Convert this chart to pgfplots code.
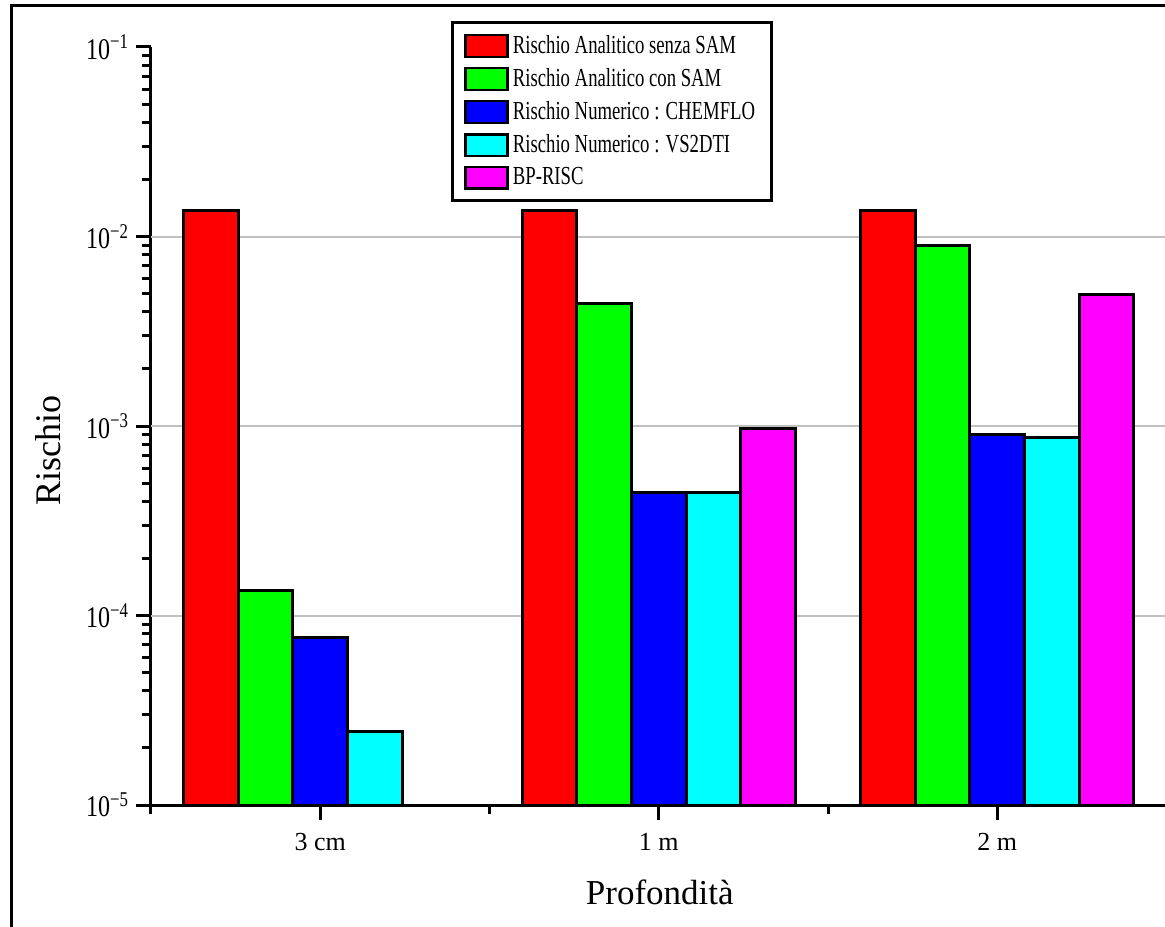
\documentclass[border=0pt]{standalone}
\usepackage{fontspec}
\setmainfont{Liberation Serif}
\newfontfamily\legfont[FakeStretch=0.72]{Liberation Serif}
\newfontfamily\tickfont[FakeStretch=0.8]{Liberation Serif}
\usepackage{pgfplots}
\pgfplotsset{compat=1.18}
\definecolor{gridgray}{RGB}{192,192,192}
\definecolor{bred}{RGB}{255,0,0}
\definecolor{bgreen}{RGB}{0,255,0}
\definecolor{bblue}{RGB}{0,0,255}
\definecolor{bcyan}{RGB}{0,255,255}
\definecolor{bmag}{RGB}{255,0,255}
\pgfplotsset{mylegend/.style={legend image code/.code={\draw[line width=1.2pt,##1] (0pt,-5.4pt) rectangle (21pt,5.4pt);}}}
\begin{document}
\begin{tikzpicture}
\begin{axis}[
  at={(0pt,0pt)}, anchor=south west,
  scale only axis, width=507.75pt, height=379pt,
  ymode=log, log origin y=infty,
  ymin=1e-5, ymax=1e-1,
  xmin=0.5, xmax=3.5,
  axis x line*=bottom, axis y line*=left,
  axis line style={line width=1.5pt},
  ybar=0pt, bar width=0.1615,
  xtick={1,2,3}, xticklabels={3 cm,1 m,2 m},
  minor xtick={0.5,1.5,2.5,3.5},
  ytick={1e-5,1e-4,1e-3,1e-2,1e-1},
  yticklabels={10\textsuperscript{−5},10\textsuperscript{−4},10\textsuperscript{−3},10\textsuperscript{−2},10\textsuperscript{−1}},
  minor ytick={2e-5,3e-5,4e-5,5e-5,6e-5,7e-5,8e-5,9e-5,2e-4,3e-4,4e-4,5e-4,6e-4,7e-4,8e-4,9e-4,2e-3,3e-3,4e-3,5e-3,6e-3,7e-3,8e-3,9e-3,2e-2,3e-2,4e-2,5e-2,6e-2,7e-2,8e-2,9e-2},
  tick align=outside,
  major tick length=7.5pt, minor tick length=4.5pt,
  tick style={line width=1.5pt, black},
  extra y ticks={1e-4,1e-3,1e-2}, extra y tick labels={},
  extra y tick style={grid=major, major tick length=0pt},
  major grid style={gridgray, line width=1pt},
  yticklabel style={font=\tickfont\fontsize{15}{15}\selectfont},
  xticklabel style={font=\fontsize{13}{13}\selectfont, yshift=-3pt},
  ylabel={Rischio},
  ylabel style={at={(axis description cs:-0.1014,0.468)}, anchor=center, font=\fontsize{18}{18}\selectfont},
  xlabel={Profondità},
  xlabel style={at={(axis description cs:0.501,-0.1148)}, anchor=center, font=\fontsize{17.5}{18}\selectfont},
  legend style={at={(axis description cs:0.2954,1.0343)}, anchor=north west, draw=black, line width=1.5pt,
    font=\legfont\fontsize{13}{13}\selectfont, inner xsep=6pt, inner ysep=4.5pt, row sep=2pt},
  legend cell align=left,
]
\addplot[fill=bred, draw=black, line width=1.5pt, mylegend] coordinates {(1,1.37e-2) (2,1.37e-2) (3,1.37e-2)};
\addlegendentry{Rischio Analitico senza SAM}
\addplot[fill=bgreen, draw=black, line width=1.5pt, mylegend] coordinates {(1,1.35e-4) (2,4.45e-3) (3,9.0e-3)};
\addlegendentry{Rischio Analitico con SAM}
\addplot[fill=bblue, draw=black, line width=1.5pt, mylegend] coordinates {(1,7.7e-5) (2,4.45e-4) (3,9.0e-4)};
\addlegendentry{Rischio Numerico : CHEMFLO}
\addplot[fill=bcyan, draw=black, line width=1.5pt, mylegend] coordinates {(1,2.45e-5) (2,4.45e-4) (3,8.7e-4)};
\addlegendentry{Rischio Numerico : VS2DTI}
\addplot[fill=bmag, draw=black, line width=1.5pt, mylegend] coordinates {(2,9.7e-4) (3,4.95e-3)};
\addlegendentry{BP-RISC}
\end{axis}
\draw[line width=1.5pt] (-69.5pt,-62pt) -- (-69.5pt,399.5pt) -- (510pt,399.5pt);
\pgfresetboundingbox
\path[use as bounding box] (-75.5pt,-60.5pt) rectangle (507pt,402.5pt);
\end{tikzpicture}
\end{document}
